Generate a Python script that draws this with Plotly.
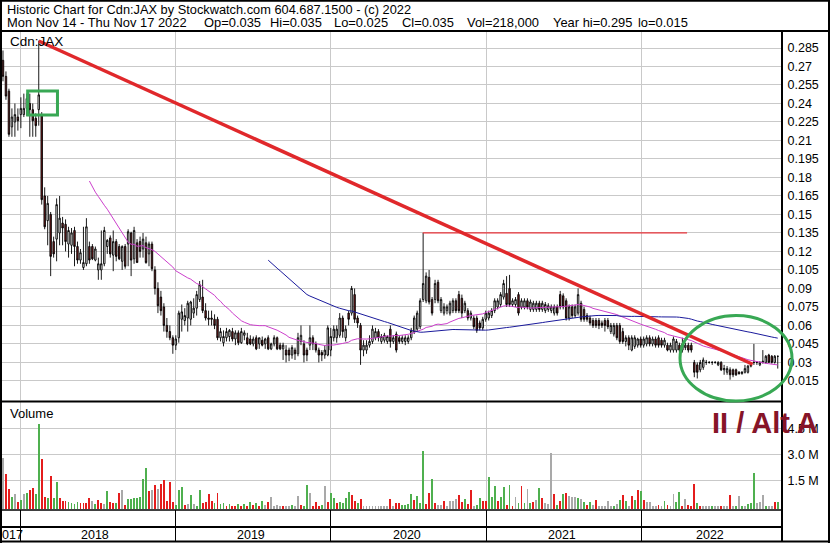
import pandas as pd
import plotly.graph_objects as go

# ---------------- data (weekly bars) ----------------
week_dates = pd.date_range("2017-11-22", periods=261, freq="7D")

opens = [
    .275, .262, .250, .221, .225, .229, .231, .231, .236, .240,
    .235, .228, .235, .230, .165, .145, .150, .128, .130, .135,
    .143, .142, .126, .125, .137, .124, .113, .107, .110, .124,
    .124, .113, .105, .105, .110, .124, .131, .117, .128, .124,
    .112, .124, .126, .135, .114, .127, .128, .122, .127, .118,
    .126, .105, .090, .083, .075, .060, .055, .050, .044, .050,
    .065, .064, .066, .065, .070, .074, .081, .083, .072, .066,
    .066, .065, .065, .050, .046, .050, .051, .055, .049, .054,
    .046, .052, .050, .049, .045, .050, .045, .048, .045, .050,
    .041, .045, .050, .044, .041, .040, .040, .036, .040, .037,
    .047, .045, .040, .044, .050, .045, .040, .038, .036, .036,
    .040, .050, .050, .052, .066, .050, .070, .070, .085, .066,
    .060, .040, .040, .044, .047, .050, .055, .047, .048, .047,
    .057, .047, .053, .050, .047, .047, .047, .050, .055, .057,
    .059, .081, .080, .099, .081, .081, .095, .072, .070, .072,
    .070, .072, .080, .085, .082, .072, .072, .066, .066, .066,
    .062, .058, .065, .066, .068, .072, .075, .077, .083, .086,
    .090, .077, .077, .085, .075, .075, .080, .073, .073, .073,
    .078, .073, .072, .073, .072, .070, .075, .085, .084, .080,
    .066, .075, .068, .070, .078, .073, .068, .066, .064, .064,
    .064, .062, .064, .064, .055, .053, .060, .060, .055, .047,
    .050, .040, .043, .044, .049, .044, .045, .050, .045, .049,
    .050, .048, .044, .044, .040, .040, .040, .044, .040, .042,
    .044, .044, .030, .028, .024, .026, .030, .030, .030, .030,
    .028, .030, .024, .022, .024, .024, .024, .022, .021, .022,
    .022, .027, .030, .030, .028, .030, .030, .036, .035, .030, .035,
]
highs = [
    .283, .266, .252, .236, .240, .236, .245, .248, .248, .248,
    .240, .232, .291, .233, .172, .165, .152, .132, .163, .165,
    .148, .146, .140, .139, .140, .128, .122, .140, .147, .128,
    .126, .124, .115, .137, .140, .130, .133, .137, .130, .126,
    .125, .126, .138, .136, .140, .130, .132, .135, .132, .128,
    .128, .108, .095, .088, .078, .066, .060, .052, .052, .072,
    .077, .074, .080, .080, .082, .088, .096, .097, .078, .072,
    .072, .069, .067, .058, .056, .058, .057, .058, .056, .056,
    .058, .056, .054, .052, .051, .052, .050, .051, .050, .052,
    .046, .052, .051, .046, .046, .044, .042, .044, .042, .054,
    .060, .048, .042, .060, .052, .047, .042, .040, .044, .060,
    .058, .060, .060, .070, .068, .060, .072, .092, .090, .068,
    .062, .048, .048, .052, .060, .058, .057, .053, .054, .052,
    .060, .052, .055, .052, .052, .052, .052, .058, .068, .072,
    .082, .135, .103, .105, .083, .097, .097, .083, .078, .077,
    .080, .082, .082, .088, .085, .080, .074, .072, .068, .068,
    .064, .067, .072, .072, .074, .082, .082, .087, .097, .100,
    .101, .082, .083, .087, .082, .082, .082, .081, .080, .080,
    .080, .080, .079, .078, .077, .077, .077, .088, .086, .082,
    .077, .077, .077, .090, .080, .075, .070, .068, .066, .066,
    .066, .064, .066, .066, .062, .062, .062, .062, .058, .052,
    .052, .052, .052, .050, .051, .051, .052, .052, .051, .051,
    .052, .050, .050, .046, .046, .051, .049, .046, .050, .046,
    .046, .046, .032, .030, .032, .034, .032, .031, .031, .031,
    .031, .031, .028, .027, .026, .025, .025, .023, .023, .028,
    .028, .029, .045, .031, .031, .040, .036, .037, .036, .036, .035,
]
lows = [
    .258, .243, .213, .213, .213, .218, .220, .229, .230, .213,
    .213, .213, .222, .158, .138, .125, .100, .115, .112, .125,
    .125, .120, .115, .118, .108, .110, .110, .105, .108, .110,
    .113, .112, .097, .097, .108, .118, .115, .104, .112, .113,
    .105, .106, .108, .100, .110, .111, .115, .115, .110, .108,
    .104, .085, .070, .068, .055, .050, .048, .037, .040, .046,
    .055, .060, .055, .060, .066, .068, .079, .070, .064, .060,
    .060, .057, .048, .047, .043, .047, .047, .047, .044, .044,
    .045, .048, .044, .044, .043, .040, .041, .043, .041, .040,
    .040, .043, .040, .040, .032, .030, .031, .033, .032, .035,
    .044, .030, .031, .040, .040, .038, .030, .031, .033, .035,
    .035, .047, .046, .050, .050, .047, .060, .068, .062, .058,
    .028, .035, .037, .042, .045, .048, .047, .045, .046, .045,
    .042, .045, .038, .045, .045, .044, .045, .048, .053, .055,
    .057, .079, .078, .077, .068, .078, .078, .070, .068, .069,
    .068, .070, .070, .070, .066, .070, .064, .064, .057, .054,
    .056, .056, .063, .064, .066, .070, .073, .075, .081, .075,
    .075, .075, .075, .068, .073, .073, .073, .071, .071, .071,
    .071, .071, .070, .071, .070, .068, .068, .073, .073, .064,
    .064, .066, .066, .068, .063, .063, .063, .060, .058, .058,
    .057, .058, .055, .057, .053, .051, .048, .045, .045, .043,
    .040, .039, .041, .042, .042, .042, .043, .043, .043, .042,
    .042, .042, .042, .039, .038, .038, .038, .038, .038, .040,
    .038, .038, .018, .017, .022, .024, .028, .029, .028, .029,
    .027, .023, .020, .020, .016, .018, .019, .020, .020, .021,
    .021, .026, .028, .028, .027, .029, .029, .030, .029, .029, .025,
]
closes = [
    .262, .246, .215, .229, .231, .226, .236, .236, .244, .235,
    .226, .222, .247, .162, .140, .159, .116, .118, .158, .147,
    .139, .128, .137, .135, .124, .113, .119, .111, .140, .113,
    .114, .122, .110, .110, .137, .129, .118, .128, .116, .114,
    .124, .108, .136, .113, .137, .111, .120, .130, .111, .126,
    .106, .090, .076, .072, .060, .055, .050, .044, .049, .070,
    .071, .068, .078, .079, .074, .085, .093, .072, .066, .065,
    .065, .060, .050, .055, .051, .055, .056, .049, .054, .046,
    .055, .054, .045, .045, .049, .041, .050, .044, .049, .041,
    .045, .050, .041, .041, .044, .036, .036, .042, .037, .050,
    .052, .036, .036, .050, .045, .040, .036, .036, .040, .058,
    .051, .057, .057, .066, .055, .057, .065, .090, .065, .062,
    .040, .044, .044, .047, .057, .055, .050, .051, .052, .051,
    .047, .050, .040, .047, .050, .050, .050, .056, .066, .070,
    .080, .094, .100, .079, .070, .094, .080, .081, .075, .075,
    .078, .080, .072, .072, .070, .078, .066, .070, .059, .056,
    .058, .065, .070, .070, .072, .080, .080, .085, .094, .077,
    .077, .080, .081, .070, .080, .080, .075, .079, .078, .078,
    .073, .078, .077, .076, .075, .075, .070, .075, .075, .066,
    .075, .068, .075, .085, .065, .065, .065, .062, .060, .060,
    .060, .060, .060, .059, .060, .060, .050, .047, .047, .050,
    .044, .050, .050, .049, .044, .049, .050, .045, .049, .044,
    .044, .044, .048, .040, .044, .049, .047, .040, .045, .044,
    .040, .040, .022, .022, .030, .032, .030, .030, .030, .030,
    .030, .024, .025, .025, .020, .020, .020, .021, .022, .025,
    .027, .028, .030, .030, .030, .031, .035, .030, .030, .035, .035,
]
# weekly volume in millions of shares
volume_m = [
    2.77, 1.86, 0.98, 0.56, 0.69, 0.25, 0.36, 0.69, 0.75, 0.94,
    1.04, 0.71, 4.75, 2.71, 0.52, 0.48, 1.75, 0.46, 1.40, 0.48,
    0.31, 0.31, 0.25, 0.21, 0.13, 0.23, 0.17, 0.21, 0.19, 0.48,
    0.31, 0.13, 0.36, 0.21, 0.13, 0.88, 0.25, 0.17, 0.17, 0.75,
    0.94, 0.06, 0.42, 0.42, 0.48, 0.48, 0.52, 1.58, 2.21, 0.88,
    0.94, 1.23, 0.98, 1.29, 1.52, 0.31, 1.40, 0.25, 0.06, 0.94,
    1.09, 0.08, 0.13, 0.65, 0.13, 0.02, 0.94, 0.17, 0.25, 0.71,
    0.33, 0.17, 0.77, 0.13, 0.21, 0.02, 0.13, 0.02, 0.01, 0.13,
    0.00, 0.13, 0.02, 0.25, 0.10, 0.17, 0.02, 0.33, 0.06, 0.25,
    0.54, 0.00, 0.08, 0.00, 0.02, 0.02, 0.02, 0.05, 0.00, 0.60,
    0.05, 0.02, 1.23, 0.77, 0.00, 0.25, 0.02, 0.05, 1.17, 0.25,
    0.77, 0.48, 0.21, 0.25, 0.19, 0.48, 0.83, 0.64, 0.33, 0.17,
    0.40, 0.00, 0.00, 0.00, 0.00, 0.00, 0.00, 0.00, 0.00, 0.00,
    0.40, 0.00, 0.17, 0.17, 0.06, 0.06, 0.13, 0.71, 0.38, 0.60,
    0.21, 3.19, 0.13, 0.79, 1.58, 0.21, 0.08, 0.08, 0.31, 0.02,
    0.29, 0.33, 0.40, 0.65, 0.25, 0.40, 0.13, 0.94, 0.00, 0.06,
    0.48, 0.33, 0.33, 1.69, 0.56, 1.17, 0.33, 0.56, 1.09, 0.08,
    1.23, 0.02, 0.54, 0.21, 1.17, 0.19, 0.98, 0.17, 0.25, 0.36,
    1.06, 0.48, 0.21, 0.13, 3.06, 0.71, 0.06, 0.33, 0.71, 0.79,
    0.60, 0.56, 0.52, 0.48, 0.42, 0.25, 0.08, 0.25, 0.10, 0.36,
    0.00, 0.00, 0.00, 0.31, 0.02, 0.00, 0.13, 0.36, 0.65, 0.31,
    0.02, 0.61, 0.36, 0.94, 0.90, 0.36, 0.25, 0.25, 0.02, 0.00,
    0.08, 0.00, 0.33, 0.08, 0.02, 0.69, 0.25, 0.83, 0.02, 0.42,
    0.08, 0.02, 1.29, 0.17, 0.00, 0.00, 0.02, 0.00, 0.00, 0.00,
    0.00, 0.00, 0.00, 0.00, 0.63, 0.00, 0.02, 0.60, 0.00, 0.00,
    0.13, 0.17, 1.94, 0.17, 0.25, 0.65, 0.00, 0.00, 0.00, 0.25, 0.22,
]
# volume bar direction: u = up week, d = down week, n = unchanged
vol_dir = (
    "n d d u n d u n u d "
    "d u u d d u d u u d "
    "d d u u u u d d d d "
    "n u d d n u d d u d "
    "n d u u u u u u u d "
    "n d n d d d d d u u "
    "u d n u n u u d d d "
    "d u d u u d u d d u "
    "d u d u d u d u n d "
    "n n n n d n n u n n "
    "d u u n d d d u n d "
    "u u d u u u u d d u "
    "d n n n n n n n n n "
    "d n d d u u u u d u "
    "u u d d u d n n d n "
    "n n n d d u d d n u "
    "u d d u u u d u u d "
    "u d n u d u n u d n "
    "u d n n n d u d u d "
    "n n n u n u d u n d "
    "n n n n n u n u d u "
    "n d u d u d n n n n "
    "d n u d n n u u d n "
    "d d d u d n n n u n "
    "n d n n d n u n u n "
    "u u u n n n u n n d u"
).split()

ma_fast_window = 30
ma_slow_window = 90

price_ticks = [0.015, 0.03, 0.045, 0.06, 0.075, 0.09, 0.105, 0.12, 0.135, 0.15,
               0.165, 0.18, 0.195, 0.21, 0.225, 0.24, 0.255, 0.27, 0.285]
price_tick_text = ["0.015", "0.03", "0.045", "0.06", "0.075", "0.09", "0.105", "0.12",
                   "0.135", "0.15", "0.165", "0.18", "0.195", "0.21", "0.225", "0.24",
                   "0.255", "0.27", "0.285"]
volume_ticks = [1.5e6, 3.0e6, 4.5e6]
volume_tick_text = ["1.5 M", "3.0 M", "4.5 M"]
year_starts = ["2018-01-01", "2019-01-01", "2020-01-01", "2021-01-01", "2022-01-01"]
year_labels = ["2018", "2019", "2020", "2021", "2022"]
year_label_dates = ["2018-06-27", "2019-06-27", "2020-06-27", "2021-06-27", "2022-06-10"]

# hand-drawn annotations (data coordinates)
trend_dates = ["2018-02-14", "2022-09-18"]
trend_prices = [0.2907, 0.0285]
resistance_dates = ["2020-08-04", "2022-04-17"]
resistance_price = 0.135
box_dates = ["2018-01-19", "2018-03-30"]
box_prices = [0.2307, 0.2501]

header_1 = "Historic Chart for Cdn:JAX by Stockwatch.com 604.687.1500 - (c) 2022"
header_2_items = ["Mon Nov 14 - Thu Nov 17 2022", "Op=0.035", "Hi=0.035", "Lo=0.025",
                  "Cl=0.035", "Vol=218,000", "Year hi=0.295", "lo=0.015"]
header_2_x = [6, 203, 268.5, 333, 401, 466, 552, 637]   # left edge of each item, px

# ---------------- layout constants ----------------
W, H = 830, 543
PLOT_R = 782
FONT = "Liberation Sans, Arial, sans-serif"
X_RANGE = ["2017-11-15", "2022-11-26"]
PRICE_RANGE = [-0.00048, 0.29798]
VOL_MIN = -0.173e6
VOL_RANGE = [VOL_MIN, 6.017e6]
DAY_MS = 86400000
DIR_COLORS = {"u": "#4fb04f", "d": "#e41c1c", "n": "#a9a9a9"}
GRID = "#c9c9c9"
GREEN = "#38a854"


def fx(p):
    return p / W


def fy(p):
    return 1 - p / H


closes_s = pd.Series(closes)
ma_fast = closes_s.rolling(ma_fast_window).mean()
ma_slow = closes_s.rolling(ma_slow_window).mean()

fig = go.Figure()
fig.add_trace(go.Candlestick(
    x=week_dates, open=opens, high=highs, low=lows, close=closes,
    increasing=dict(line=dict(color="black", width=0.9), fillcolor="white"),
    decreasing=dict(line=dict(color="black", width=0.9), fillcolor="#7a1c1c"),
    whiskerwidth=0, xaxis="x", yaxis="y", showlegend=False, hoverinfo="skip"))
fig.add_trace(go.Scatter(x=week_dates, y=ma_fast, mode="lines",
                         line=dict(color="#cc3fcc", width=1), xaxis="x", yaxis="y",
                         showlegend=False, hoverinfo="skip"))
fig.add_trace(go.Scatter(x=week_dates, y=ma_slow, mode="lines",
                         line=dict(color="#1a1a9c", width=1), xaxis="x", yaxis="y",
                         showlegend=False, hoverinfo="skip"))
fig.add_trace(go.Bar(
    x=week_dates, y=[v * 1e6 - VOL_MIN for v in volume_m], base=VOL_MIN,
    marker=dict(color=[DIR_COLORS[d] for d in vol_dir], line=dict(width=0)),
    width=4.4 * DAY_MS, xaxis="x2", yaxis="y2", showlegend=False, hoverinfo="skip"))
fig.add_trace(go.Scatter(x=[], y=[], xaxis="x3", yaxis="y3", showlegend=False))

x_common = dict(type="date", range=X_RANGE, domain=[0, fx(PLOT_R)], tickmode="array",
                tickvals=year_starts, showticklabels=False, showline=False,
                zeroline=False, ticks="", fixedrange=True)

fig.update_layout(
    width=W, height=H, autosize=False,
    margin=dict(l=0, r=0, t=0, b=0, pad=0),
    paper_bgcolor="white", plot_bgcolor="white",
    font=dict(family=FONT, size=12.5, color="black"),
    showlegend=False, bargap=0,
    xaxis=dict(**x_common, anchor="y", showgrid=True, gridcolor=GRID, gridwidth=1,
               rangeslider=dict(visible=False)),
    yaxis=dict(domain=[fy(400), fy(32)], range=PRICE_RANGE, side="right", anchor="x",
               tickmode="array", tickvals=price_ticks, ticktext=price_tick_text,
               showgrid=True, gridcolor=GRID, gridwidth=1, zeroline=False, showline=False,
               ticks="outside", ticklen=2, tickcolor="rgba(0,0,0,0)",
               tickfont=dict(family=FONT, size=12.5, color="black")),
    xaxis2=dict(**x_common, anchor="y2", matches="x", showgrid=True, gridcolor=GRID,
                gridwidth=1),
    yaxis2=dict(domain=[fy(509.3), fy(402)], range=VOL_RANGE, side="right", anchor="x2",
                tickmode="array", tickvals=volume_ticks, ticktext=volume_tick_text,
                showgrid=True, gridcolor=GRID, gridwidth=1, zeroline=False, showline=False,
                ticks="outside", ticklen=2, tickcolor="rgba(0,0,0,0)",
                tickfont=dict(family=FONT, size=12.5, color="black")),
    xaxis3=dict(**x_common, anchor="y3", matches="x", showgrid=True, gridcolor="black",
                gridwidth=1),
    yaxis3=dict(domain=[fy(541.5), fy(510)], range=[0, 1], showgrid=False,
                showticklabels=False, zeroline=False, showline=False, ticks=""),
)

shapes = []
# frame lines
shapes.append(dict(type="line", xref="paper", yref="paper", x0=0, x1=1, y0=fy(0.8), y1=fy(0.8),
                   line=dict(color="black", width=2)))
shapes.append(dict(type="line", xref="paper", yref="paper", x0=0, x1=1, y0=fy(31), y1=fy(31),
                   line=dict(color="black", width=2)))
shapes.append(dict(type="line", xref="paper", yref="paper", x0=fx(1), x1=fx(1), y0=1, y1=0,
                   line=dict(color="black", width=2)))
shapes.append(dict(type="line", xref="paper", yref="paper", x0=fx(PLOT_R), x1=fx(PLOT_R),
                   y0=fy(31), y1=fy(542), line=dict(color="black", width=2)))
shapes.append(dict(type="line", xref="paper", yref="paper", x0=fx(829), x1=fx(829),
                   y0=1, y1=0, line=dict(color="black", width=2)))
shapes.append(dict(type="line", xref="paper", yref="paper", x0=0, x1=fx(PLOT_R), y0=fy(401.5),
                   y1=fy(401.5), line=dict(color="black", width=2)))
shapes.append(dict(type="line", xref="paper", yref="paper", x0=0, x1=fx(PLOT_R), y0=fy(510),
                   y1=fy(510), line=dict(color="black", width=1.5)))
shapes.append(dict(type="line", xref="paper", yref="paper", x0=0, x1=fx(PLOT_R), y0=fy(527),
                   y1=fy(527), line=dict(color="black", width=2)))
shapes.append(dict(type="line", xref="paper", yref="paper", x0=0, x1=1, y0=fy(541.5),
                   y1=fy(541.5), line=dict(color="black", width=2)))
# drawn annotations
shapes.append(dict(type="line", xref="x", yref="y", x0=resistance_dates[0], x1=resistance_dates[1],
                   y0=resistance_price, y1=resistance_price, line=dict(color="#e8333a", width=1.2)))
shapes.append(dict(type="line", xref="x", yref="y", x0=trend_dates[0], x1=trend_dates[1],
                   y0=trend_prices[0], y1=trend_prices[1], line=dict(color="#e0282b", width=3.5)))
shapes.append(dict(type="rect", xref="x", yref="y", x0=box_dates[0], x1=box_dates[1],
                   y0=box_prices[0], y1=box_prices[1], line=dict(color=GREEN, width=3)))
shapes.append(dict(type="circle", xref="paper", yref="paper", x0=fx(680), x1=fx(792),
                   y0=fy(401), y1=fy(315.5), line=dict(color=GREEN, width=3)))
fig.update_layout(shapes=shapes)

ann = []
ann.append(dict(text=header_1, xref="paper", yref="paper", x=fx(5), y=fy(9.5), xanchor="left",
                yanchor="middle", showarrow=False, font=dict(family=FONT, size=12.8, color="black")))
for xpos, item in zip(header_2_x, header_2_items):
    ann.append(dict(text=item, xref="paper", yref="paper", x=fx(xpos - 1), y=fy(22.5),
                    xanchor="left", yanchor="middle", showarrow=False,
                    font=dict(family=FONT, size=12.9, color="black")))
ann.append(dict(text="Cdn:JAX", xref="paper", yref="paper", x=fx(8), y=fy(41.5), xanchor="left",
                yanchor="middle", showarrow=False, font=dict(family=FONT, size=13.5, color="black")))
ann.append(dict(text="Volume", xref="paper", yref="paper", x=fx(8), y=fy(413.5), xanchor="left",
                yanchor="middle", showarrow=False, font=dict(family=FONT, size=13, color="black")))
for d, lab in zip(year_label_dates, year_labels):
    ann.append(dict(text=lab, xref="x", yref="paper", x=d, y=fy(534.5), xanchor="center",
                    yanchor="middle", showarrow=False, font=dict(family=FONT, size=12.5, color="black")))
ann.append(dict(text="017", xref="paper", yref="paper", x=0, y=fy(534.5), xanchor="left",
                yanchor="middle", showarrow=False, font=dict(family=FONT, size=12.5, color="black")))
ann.append(dict(text="<b>II / Alt A</b>", xref="paper", yref="paper", x=fx(710), y=fy(423),
                xanchor="left", yanchor="middle", showarrow=False,
                font=dict(family=FONT, size=29, color="#861428")))
fig.update_layout(annotations=ann)

fig.write_html("out.html", config={"displayModeBar": False, "staticPlot": True},
               post_script="document.body.style.margin='0';document.body.style.padding='0';"
                           "document.documentElement.style.overflow='hidden';")
